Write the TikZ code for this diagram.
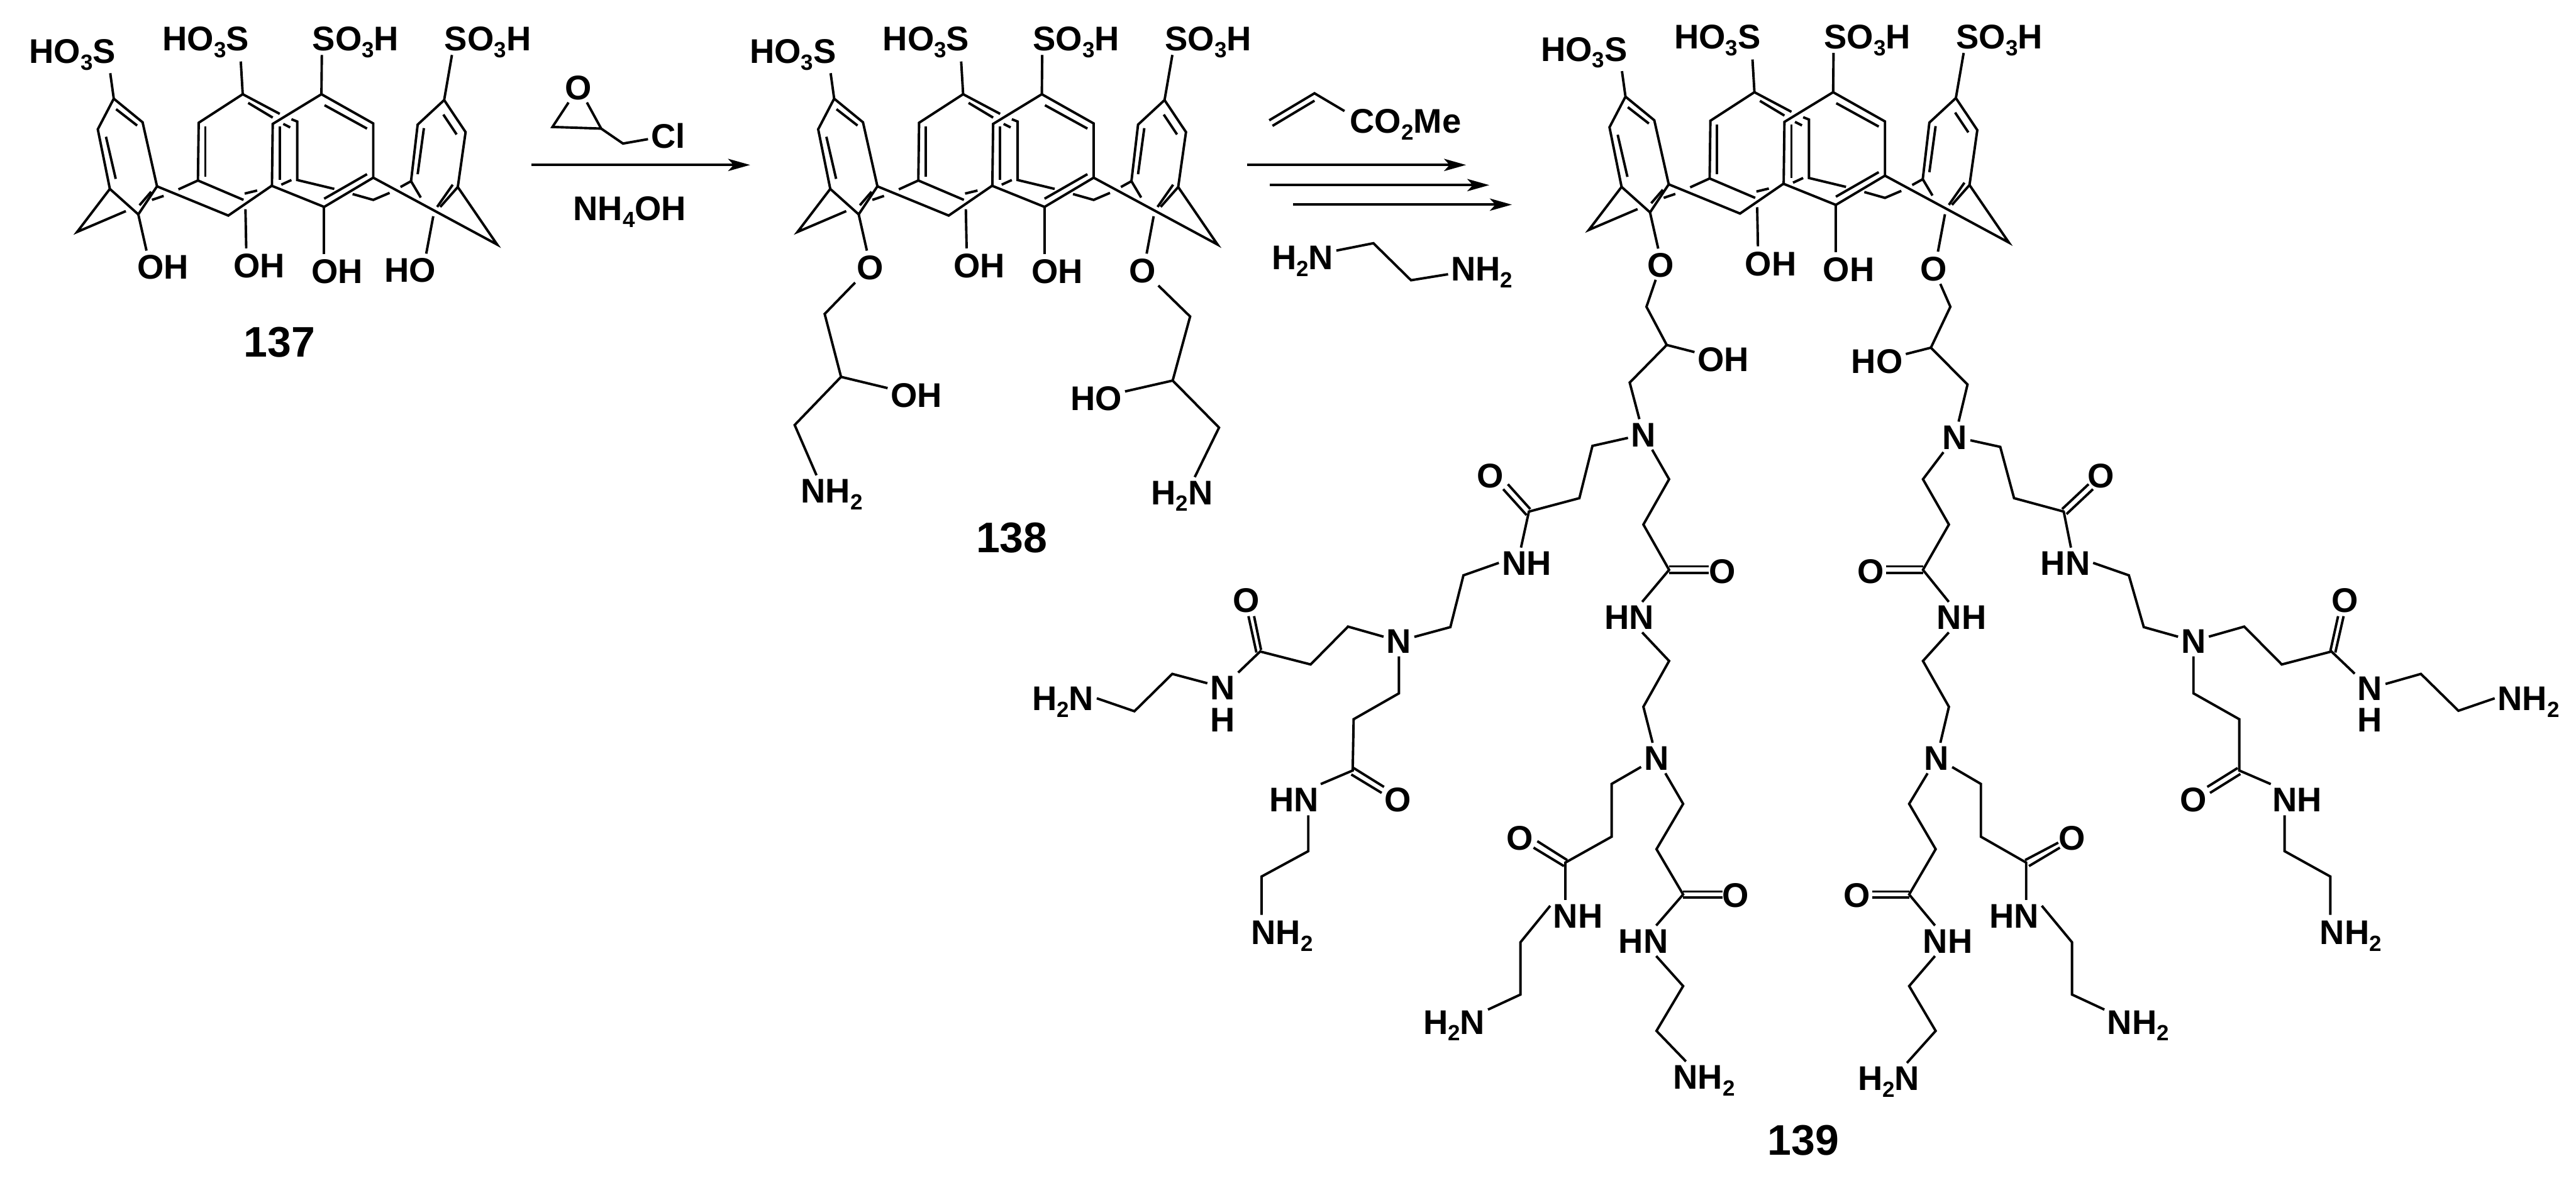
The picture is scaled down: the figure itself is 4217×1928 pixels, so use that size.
\documentclass[tikz,border=0pt]{standalone}
\usepackage{fontspec}
\setmainfont{Liberation Sans}
\usetikzlibrary{arrows.meta}
\newcommand\subn[1]{\raisebox{-11pt}{\fontsize{36}{36}\selectfont #1}}
\tikzset{
 bond/.style={line width=4pt},
 atom/.style={font=\bfseries\fontsize{56}{60}\selectfont,inner sep=5pt,outer sep=0pt,text height=40pt,text depth=0pt},
 rxn/.style={line width=4pt,-{Stealth[length=36pt,width=20pt,inset=9pt]}},
 calixunits/.style={x=0.6378pt,y=-0.3827pt},
}
% one calixarene, with the bonds that all three have
\newcommand\calix[1]{
\draw [bond] (283,313)--(292,422)--(366,523)--(403,797)--(355,917)--(282,808)--(251,553)--(292,422);
\draw [bond] (298,467)--(352,537);
\draw [bond] (272,585)--(297,765);
\draw [bond] (388,820)--(358,878);
\draw [bond] (390,855)--(420,838);
\draw [bond] (355,917)--(376,1072);
\draw [bond] (323,903)--(198,992)--(282,808);
\draw [bond] (403,797)--(586,922)--(697,795);

\draw [bond] (618,263)--(623,403);
\draw [bond] (718,487)--(623,403)--(510,525)--(508,772)--(625,855);
\draw [bond] (637,440)--(700,503);
\draw [bond] (527,540)--(527,755);
\draw [bond] (458,810)--(508,772);
\draw [bond] (628,828)--(660,815);
\draw [bond] (630,895)--(632,1062);

\draw [bond] (826,235)--(825,403)--(958,528)--(958,760)--(832,885)--(698,795)--(700,530)--(825,403);
\draw [bond] (833,450)--(942,550);
\draw [bond] (942,745)--(832,850);
\draw [bond] (718,540)--(718,770);
\draw [bond] (832,885)--(832,1088);
\draw [bond] (748,510)--(763,520)--(763,770)--(858,808);
\draw [bond] (727,530)--(745,545);
\draw [bond] (722,790)--(748,770);
\draw [bond] (905,830)--(958,855)--(1000,825);
\draw [bond] (1028,800)--(1055,775)--(1080,845);
\draw [bond] (958,760)--(1276,1046)--(1175,800);

\draw [bond] (1160,235)--(1140,428)--(1195,565)--(1175,800)--(1130,885);
\draw [bond] (1140,428)--(1072,533)--(1055,775);
\draw [bond] (1138,490)--(1172,575);
\draw [bond] (1088,548)--(1072,745);
\draw [bond] (1162,790)--(1122,885);
\draw [bond] (1112,925)--(1094,1085);

\node [atom] (#1s1) at (186,218) {HO\subn{3}S};
\node [atom] (#1s2) at (528,165) {HO\subn{3}S};
\node [atom] (#1s3) at (913,165) {SO\subn{3}H};
\node [atom] (#1s4) at (1252,165) {SO\subn{3}H};
\node [atom] (#1oh2) at (665,1135) {OH};
\node [atom] (#1oh3) at (865,1160) {OH};
}
\begin{document}
\begin{tikzpicture}[x=1pt,y=-1pt]
\useasboundingbox (0,0) rectangle (4217,1928);

% 137 and the first reagents
\begin{scope}[calixunits]
\calix{a}
\node [atom] (aoh1) at (418,1142) {OH};
\node [atom] (aoh4) at (1053,1155) {HO};
\node [atom,font=\bfseries\fontsize{70}{72}\selectfont,text height=50pt] (no137) at (717,1460) {137};

\node [atom] (epo) at (1485,373) {O};
\node [atom] (cl) at (1715,580) {Cl};
\draw [bond] (epo)--(1418,543)--(1543,550)--(epo);
\draw [bond] (1543,550)--(1599,614)--(cl);
\end{scope}

\coordinate (a1) at (870,270);
\coordinate (a2) at (1228,270);
\draw [rxn] (a1)--(a2);
\node [atom] (amm) at (1031,341) {NH\subn{4}OH};

% 138
\begin{scope}[shift={(1179.3,0)},calixunits]
\calix{b}
\end{scope}
\begin{scope}[shift={(1000,0)},x=0.8929pt,y=-0.606pt]
\node [atom] (bo1) at (475,722) {O};
\node [atom] (bo2) at (975,730) {O};
\node [atom] (boh) at (560,1067) {OH};
\node [atom] (bho) at (890,1075) {HO};
\node [atom] (bnh1) at (405,1325) {NH\subn{2}};
\node [atom] (bnh2) at (1047,1330) {H\subn{2}N};
\draw [bond] (bo1)--(392,848)--(422,1018)--(337,1148)--(bnh1.135);
\draw [bond] (422,1018)--(boh);
\draw [bond] (bo2)--(1062,855)--(1030,1028)--(1115,1155)--(bnh2.50);
\draw [bond] (1030,1028)--(bho);
\node [atom,font=\bfseries\fontsize{70}{72}\selectfont,text height=50pt] (no138) at (735,1452) {138};

% second reagents
\draw [bond] (1207,325)--(1290,252)--(1345,300);
\draw [bond] (1213,340)--(1290,272);
\node [atom] (acr) at (1457,327) {CO\subn{2}Me};
\node [atom] (en1) at (1268,695) {H\subn{2}N};
\node [atom] (en2) at (1597,726) {NH\subn{2}};
\draw [bond] (en1)--(1398,657)--(1467,757)--(en2);
\end{scope}

\coordinate (b1) at (2042,270);
\coordinate (b2) at (2400,270);
\coordinate (c1) at (2079,303);
\coordinate (c2) at (2438,303);
\coordinate (d1) at (2117,335);
\coordinate (d2) at (2475,335);
\draw [rxn] (b1)--(b2);
\draw [rxn] (c1)--(c2);
\draw [rxn] (d1)--(d2);

% 139, left arm
\begin{scope}[shift={(1600,650)},x=0.7651pt,y=-0.815pt]
\node [atom] (n1) at (1425,75) {N};
\node [atom] (n2) at (902,490) {N};
\node [atom] (n3) at (1453,725) {N};
\node [atom] (lo1) at (1097,157) {O};
\node [atom] (lnh1) at (1175,333) {NH};
\node [atom] (lo2) at (575,408) {O};
\node [atom] (lnh2) at (525,583) {N};
\node [atom] (lh2) at (525,648) {H};
\node [atom] (lam1) at (183,605) {H\subn{2}N};
\node [atom] (lo3) at (900,808) {O};
\node [atom] (lnh3) at (678,808) {HN};
\node [atom] (lam2) at (652,1075) {NH\subn{2}};
\node [atom] (lo4) at (1594,350) {O};
\node [atom] (lnh4) at (1395,442) {HN};
\node [atom] (lo5) at (1160,885) {O};
\node [atom] (lnh5) at (1285,1042) {NH};
\node [atom] (lam3) at (1020,1255) {H\subn{2}N};
\node [atom] (lo6) at (1622,1000) {O};
\node [atom] (lnh6) at (1425,1092) {HN};
\node [atom] (lam4) at (1555,1365) {NH\subn{2}};

\draw [bond] (n1)--(1316,98)--(1288,203)--(1180,230)--(lnh1.110);
\draw [bond] (1175,237)--(1125,185);
\draw [bond] (1183,225)--(1135,175);
\draw [bond] (lnh1.west)--(1040,358)--(1012,462)--(n2);
\draw [bond] (n2)--(793,461)--(713,537)--(605,511)--(lnh2);
\draw [bond] (597,513)--(580,440);
\draw [bond] (607,508)--(592,440);
\draw [bond] (lnh2)--(417,556)--(336,631)--(lam1.east);
\draw [bond] (n2)--(902,595)--(805,647)--(803,750)--(lnh3.30);
\draw [bond] (805,745)--(870,783);
\draw [bond] (800,758)--(865,795);
\draw [bond] (708,840)--(708,912)--(608,963)--(608,1040);
\draw [bond] (n1)--(1480,165)--(1425,256)--(1480,347)--(lnh4.50);
\draw [bond] (1480,340)--(1565,340);
\draw [bond] (1480,353)--(1565,353);
\draw [bond] (lnh4.-50)--(1480,530)--(1425,622)--(n3);
\draw [bond] (n3)--(1357,777)--(1357,883)--(1258,935)--(1258,1010);
\draw [bond] (1255,942)--(1190,905);
\draw [bond] (1262,930)--(1198,892);
\draw [bond] (lnh5.160)--(1162,1095)--(1162,1200)--(lam3.20);
\draw [bond] (n3)--(1510,817)--(1453,908)--(1510,999)--(lnh6.50);
\draw [bond] (1510,993)--(1595,993);
\draw [bond] (1510,1005)--(1595,1005);
\draw [bond] (lnh6.-50)--(1510,1183)--(1453,1273)--(lam4.140);
\end{scope}

% 139, right arm
\begin{scope}[shift={(2800,650)},x=0.9037pt,y=-0.815pt]
\node [atom] (m1) at (443,80) {N};
\node [atom] (m2) at (875,490) {N};
\node [atom] (m3) at (410,725) {N};
\node [atom] (ro1) at (707,157) {O};
\node [atom] (rnh1) at (643,333) {HN};
\node [atom] (ro2) at (1150,408) {O};
\node [atom] (rnh2) at (1195,585) {N};
\node [atom] (rh2) at (1195,648) {H};
\node [atom] (ram1) at (1482,605) {NH\subn{2}};
\node [atom] (ro3) at (875,808) {O};
\node [atom] (rnh3) at (1063,808) {NH};
\node [atom] (ram2) at (1160,1075) {NH\subn{2}};
\node [atom] (ro4) at (290,350) {O};
\node [atom] (rnh4) at (455,442) {NH};
\node [atom] (ro5) at (655,885) {O};
\node [atom] (rnh5) at (550,1042) {HN};
\node [atom] (ram3) at (775,1255) {NH\subn{2}};
\node [atom] (ro6) at (265,1000) {O};
\node [atom] (rnh6) at (430,1092) {NH};
\node [atom] (ram4) at (323,1368) {H\subn{2}N};
\node [atom,font=\bfseries\fontsize{70}{72}\selectfont,text height=50pt] (no139) at (168,1492) {139};

\draw [bond] (m1)--(525,100)--(550,203)--(640,230)--(rnh1.70);
\draw [bond] (637,225)--(685,175);
\draw [bond] (645,235)--(693,185);
\draw [bond] (rnh1.east)--(758,358)--(785,462)--(m2);
\draw [bond] (m2)--(967,461)--(1035,537)--(1125,511)--(rnh2);
\draw [bond] (1123,510)--(1137,440);
\draw [bond] (1132,513)--(1147,440);
\draw [bond] (rnh2)--(1287,556)--(1355,630)--(ram1.west);
\draw [bond] (m2)--(875,595)--(958,647)--(958,750)--(rnh3.150);
\draw [bond] (955,745)--(900,783);
\draw [bond] (960,757)--(905,795);
\draw [bond] (1040,840)--(1040,912)--(1123,963)--(1123,1040);
\draw [bond] (m1)--(385,165)--(432,256)--(385,347)--(rnh4.130);
\draw [bond] (385,340)--(318,340);
\draw [bond] (385,353)--(318,353);
\draw [bond] (rnh4.-130)--(385,530)--(432,622)--(m3);
\draw [bond] (m3)--(490,777)--(490,883)--(572,935)--(572,1010);
\draw [bond] (570,930)--(630,895);
\draw [bond] (577,942)--(633,905);
\draw [bond] (rnh5.20)--(655,1095)--(655,1200)--(ram3.160);
\draw [bond] (m3)--(360,817)--(408,908)--(360,999)--(rnh6.130);
\draw [bond] (360,993)--(293,993);
\draw [bond] (360,1005)--(293,1005);
\draw [bond] (rnh6.-130)--(360,1183)--(408,1273)--(ram4.40);
\end{scope}

% 139, the calixarene and its two links
\begin{scope}[shift={(2474.7,-3.3)},calixunits]
\calix{c}
\end{scope}
\begin{scope}[shift={(2400,0)},x=0.6378pt,y=-0.4464pt]
\node [atom] (co1) at (500,970) {O};
\node [atom] (co2) at (1200,985) {O};
\node [atom] (coh) at (660,1318) {OH};
\node [atom] (cho) at (1055,1325) {HO};
\draw [bond] (co1)--(463,1125)--(515,1265)--(420,1403)--(n1);
\draw [bond] (515,1265)--(coh);
\draw [bond] (co2)--(1243,1125)--(1193,1275)--(1287,1410)--(m1);
\draw [bond] (1193,1275)--(cho);
\end{scope}
\end{tikzpicture}
\end{document}
